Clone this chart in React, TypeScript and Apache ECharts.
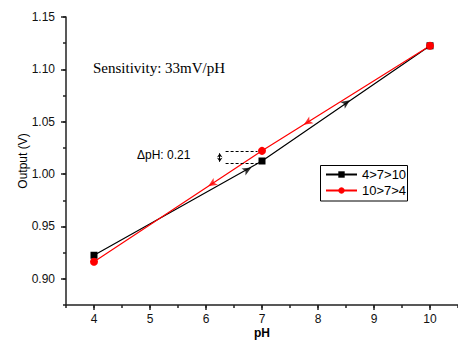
import React, { useEffect, useRef } from 'react';
import * as echarts from 'echarts';

const phUp = [4, 7, 10];
const outUp = [0.9225, 1.0125, 1.1225];
const phDown = [10, 7, 4];
const outDown = [1.1225, 1.0222, 0.9163];

const upArrows = [[6.81, 1.0062], [8.57, 1.0705]];
const downArrows = [[7.745, 1.0472], [6.04, 0.9883]];

const xTicks = [4, 5, 6, 7, 8, 9, 10];
const yTicks = [0.9, 0.95, 1.0, 1.05, 1.1, 1.15];

const dashTop = 1.0215;
const dashBottom = 1.0105;
const dashFrom = 6.35;
const dashTo = 6.92;
const dArrowX = 6.245;
const dArrowTop = 1.0198;
const dArrowBottom = 1.0118;

const SANS = '"Liberation Sans", Arial, sans-serif';
const SERIF = '"Liberation Serif", "Times New Roman", serif';
const AX = '#222';

export default function App() {
  const ref = useRef<HTMLDivElement>(null);
  useEffect(() => {
    if (!ref.current) return;
    const chart = echarts.init(ref.current, undefined, { renderer: 'svg' });
    const upData = phUp.map((x, i) => [x, outUp[i]]);
    const downData = phDown.map((x, i) => [x, outDown[i]]);
    const option: any = {
      animation: false,
      grid: { left: 66, right: 0, top: 17, bottom: 36, containLabel: false, outerBoundsMode: 'none' },
      xAxis: [
        {
          type: 'value', min: 3.5, max: 10.5, position: 'bottom',
          axisLine: { show: true, onZero: false, lineStyle: { color: AX, width: 1.5 } },
          axisTick: { show: true, length: 5, customValues: xTicks, lineStyle: { color: AX, width: 1.5 } },
          axisLabel: { customValues: xTicks, margin: 8, fontSize: 12, color: '#111', fontFamily: SANS },
          splitLine: { show: false },
          name: 'pH', nameLocation: 'middle', nameGap: 22, nameMoveOverlap: false,
          nameTextStyle: { fontWeight: 'bold', fontSize: 12, color: '#000', fontFamily: SANS },
        },
        {
          type: 'value', min: 3.5, max: 10.5, interval: 0.5, position: 'bottom',
          axisLine: { show: false },
          axisTick: { show: true, length: 3, lineStyle: { color: AX, width: 1.5 } },
          axisLabel: { show: false }, splitLine: { show: false },
        },
      ],
      yAxis: [
        {
          type: 'value', min: 0.875, max: 1.15, position: 'left',
          axisLine: { show: true, onZero: false, lineStyle: { color: AX, width: 1.5 } },
          axisTick: { show: true, length: 5, customValues: yTicks, lineStyle: { color: AX, width: 1.5 } },
          axisLabel: { customValues: yTicks, margin: 11, fontSize: 12, color: '#111', fontFamily: SANS, formatter: (v: number) => v.toFixed(2) },
          splitLine: { show: false },
          name: 'Output (V)', nameLocation: 'middle', nameGap: 37, nameMoveOverlap: false,
          nameTextStyle: { fontSize: 12, color: '#000', fontFamily: SANS },
        },
        {
          type: 'value', min: 0.875, max: 1.15, interval: 0.025, position: 'left',
          axisLine: { show: false },
          axisTick: { show: true, length: 3, lineStyle: { color: AX, width: 1.5 } },
          axisLabel: { show: false }, splitLine: { show: false },
        },
      ],
      legend: {
        data: ['4>7>10', '10>7>4'], orient: 'vertical', left: 325, top: 168,
        itemWidth: 31, itemHeight: 8, itemGap: 3, padding: 0,
        borderWidth: 0,
        textStyle: { fontSize: 13, color: '#000', fontFamily: SANS },
      },
      graphic: [
        { type: 'text', left: 93, top: 60, style: { text: 'Sensitivity: 33mV/pH', font: `15px ${SERIF}`, fill: '#000' } },
        { type: 'text', left: 137, top: 149, style: { text: 'ΔpH: 0.21', font: `12px ${SANS}`, fill: '#000' } },
        { type: 'rect', shape: { x: 320.5, y: 165.5, width: 87, height: 35.5 }, style: { fill: 'none', stroke: '#000', lineWidth: 1 }, z: 10 },
      ],
      series: [
        {
          name: '4>7>10', type: 'line', data: upData, symbol: 'rect', symbolSize: 7,
          lineStyle: { color: '#000', width: 1.2 }, itemStyle: { color: '#000' },
          markLine: {
            silent: true, symbol: ['none', 'none'], label: { show: false },
            lineStyle: { type: [3, 2], color: '#000', width: 1 },
            data: [
              [{ coord: [dashFrom, dashTop] }, { coord: [dashTo, dashTop] }],
              [{ coord: [dashFrom, dashBottom] }, { coord: [dashTo, dashBottom] }],
              [
                { coord: [dArrowX, dArrowTop], symbol: 'arrow', symbolSize: 4, lineStyle: { type: 'solid', width: 1 } },
                { coord: [dArrowX, dArrowBottom], symbol: 'arrow', symbolSize: 4, lineStyle: { type: 'solid', width: 1 } },
              ],
            ],
          },
        },
        {
          name: '10>7>4', type: 'line', data: downData, symbol: 'circle', symbolSize: 8,
          lineStyle: { color: '#ff0000', width: 1.2 }, itemStyle: { color: '#ff0000' },
        },
        { name: 'upArrows', type: 'scatter', data: upArrows, symbol: 'arrow', symbolSize: [6, 9], itemStyle: { color: '#000' }, z: 3 },
        { name: 'downArrows', type: 'scatter', data: downArrows, symbol: 'arrow', symbolSize: [6, 9], itemStyle: { color: '#ff0000' }, z: 3 },
      ],
    };
    chart.setOption(option);

    const rot = (pts: number[][], xs: number[], ys: number[], reverse: boolean) =>
      pts.map((p) => {
        const pairs = xs.map((x, i) => [x, ys[i]]).sort((a, b) => a[0] - b[0]);
        let k = 0;
        for (let i = 0; i < pairs.length - 1; i++) if (p[0] >= pairs[i][0] && p[0] <= pairs[i + 1][0]) k = i;
        const a = chart.convertToPixel({ gridIndex: 0 }, pairs[k]) as number[];
        const b = chart.convertToPixel({ gridIndex: 0 }, pairs[k + 1]) as number[];
        let ang = (Math.atan2(-(b[1] - a[1]), b[0] - a[0]) * 180) / Math.PI;
        if (reverse) ang += 180;
        return { value: p, symbolRotate: ang - 90 };
      });
    chart.setOption({
      series: [
        {}, {},
        { data: rot(upArrows, phUp, outUp, false) },
        { data: rot(downArrows, phDown, outDown, true) },
      ],
    });
    return () => chart.dispose();
  }, []);
  return (
    <div style={{ position: 'fixed', left: 0, top: 0, width: 458, height: 341, background: '#fff' }}>
      <div ref={ref} style={{ width: 458, height: 341 }} />
    </div>
  );
}
